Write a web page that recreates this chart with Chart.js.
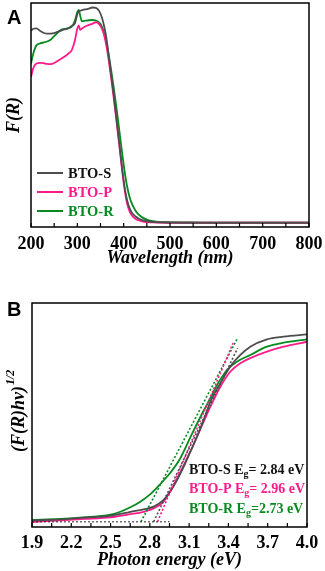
<!DOCTYPE html>
<html lang="en">
<head>
<meta charset="UTF-8">
<title>BTO absorption spectra</title>
<script src="https://cdn.jsdelivr.net/npm/chart.js"></script>
<style>
  body { margin: 0; background: #fff; width: 325px; height: 571px; overflow: hidden; position: relative; }
  canvas { position: absolute; left: 0; }
  #chartA { top: 0; }
  #chartB { top: 280px; }
  .panel { position: absolute; left: 7px; font: bold 20px "Liberation Sans", Arial, sans-serif; line-height: 20px; color: #000; }
</style>
</head>
<body>
<canvas id="chartA" width="325" height="280"></canvas>
<canvas id="chartB" width="325" height="291"></canvas>
<div class="panel" style="top:7px">A</div>
<div class="panel" style="top:299px">B</div>

<script>
  // ---- Panel A: F(R) vs wavelength ----
  const wavelength = [200, 205, 212, 220, 228, 235, 243, 250, 258, 265, 272, 280, 288, 295, 300, 303, 306, 310, 318, 325,
    332, 340, 347, 353, 358, 363, 368, 373, 378, 383, 388, 393, 398, 403, 408, 413, 418, 425, 432, 440,
    450, 460, 475, 500, 550, 600, 650, 700, 750, 800];
  const fS = [87.6, 88.5, 88.7, 87.5, 86.6, 86.3, 86.3, 86.5, 87.2, 87.7, 88.2, 88.6, 89.8, 91, 95, 96.3, 96.5, 96.8, 97.2, 97.5,
    98, 97.8, 96.5, 93.5, 89.5, 84, 76, 68, 60, 51, 42, 33, 24, 16.5, 11.5, 8.3, 6.3, 4.8, 3.8, 3.1,
    2.6, 2.3, 2.1, 2.0, 1.9, 1.9, 1.9, 1.9, 1.9, 1.9];
  const fP = [67, 71, 73, 73.3, 73.1, 72.8, 72.7, 73.2, 74.2, 75.1, 76, 77.3, 79, 83.5, 88.7, 90, 88, 88.6, 89.6, 90.2,
    90.7, 91.4, 90.6, 88.5, 85.5, 80.5, 74, 66.5, 58.5, 50, 41, 32, 23, 15.5, 10, 6.8, 5, 3.7, 3, 2.5,
    2.2, 2.1, 2.0, 1.9, 1.9, 1.9, 1.9, 1.9, 1.9, 1.9];
  const fR = [73, 77.5, 81.2, 82, 82.4, 82.8, 83.7, 85.2, 86.8, 88, 88.4, 88.8, 89.4, 92.4, 96, 96.9, 94.5, 91.8, 92.1, 92.3,
    92.4, 92.2, 91.3, 89.5, 86.5, 82, 76.5, 70, 63, 55.5, 47.5, 39, 31, 23.5, 17.5, 13.2, 10.3, 7.5, 5.6, 4.3,
    3.3, 2.7, 2.3, 2.1, 2.0, 1.9, 1.9, 1.9, 1.9, 1.9];
  const wlTicks = [200, 250, 300, 350, 400, 450, 500, 550, 600, 650, 700, 750, 800];

  // ---- Panel B: Tauc plot ----
  const energySP = [1.9, 2.116, 2.3, 2.498, 2.651, 2.752, 2.829, 2.905, 2.956, 3.007, 3.058, 3.109, 3.16, 3.211, 3.262,
    3.338, 3.414, 3.491, 3.567, 3.694, 3.821, 4.0];
  const taucS = [2.9, 3.4, 4.2, 5.0, 6.8, 7.9, 9.1, 12.1, 15.8, 21, 26.9, 33.6, 40.3, 47.8, 55.9,
    64.2, 71.6, 76.8, 80.5, 83.8, 85.0, 86.0];
  const taucP = [2.2, 3.0, 3.6, 4.3, 5.7, 6.8, 8.3, 11.3, 16.0, 21.5, 27.5, 33.6, 40.3, 47, 53.7,
    62.6, 69.3, 73.1, 75.4, 78.3, 80.5, 82.7];
  const energyR = [1.9, 2.116, 2.37, 2.498, 2.574, 2.651, 2.727, 2.804, 2.88, 2.956, 3.033, 3.109, 3.185, 3.262, 3.313,
    3.389, 3.465, 3.567, 3.694, 3.821, 4.0];
  const taucR = [3.1, 3.6, 4.6, 5.5, 6.8, 8.8, 11.3, 14.7, 19.2, 24.2, 30.7, 40, 49, 57.5, 63.4,
    70.1, 73.8, 76.8, 80.5, 82.3, 83.8];
  // tangent (extrapolation) lines and the baseline
  const tangentS = [[2.829, 2.4], [3.47, 79.8]];
  const tangentP = [[2.859, 2.4], [3.44, 82.7]];
  const tangentR = [[2.732, 2.4], [3.465, 83.8]];
  const baseline = [[1.9, 2.3], [2.95, 2.3]];
  const evTicks = [1.9, 2.05, 2.2, 2.35, 2.5, 2.65, 2.8, 2.95, 3.1, 3.25, 3.4, 3.55, 3.7, 3.85, 4.0];

  const names = ['BTO-S', 'BTO-P', 'BTO-R'];
  const gapText = ['= 2.84 eV', '= 2.96 eV', '=2.73 eV'];
  const colors = ['#4d4d4d', '#ff1a8c', '#078a1f'];
  const textColors = ['#111111', '#ff1a8c', '#078a1f'];

  const serif = '"Liberation Serif", "Times New Roman", serif';
  const tickFont = { family: serif, size: 18, weight: 'bold' };
  const titleFont = { family: serif, size: 18, weight: 'bold', style: 'italic' };

  const toXY = (xs, ys) => xs.map((x, i) => ({ x: x, y: ys[i] }));
  const pairs = p => p.map(d => ({ x: d[0], y: d[1] }));

  // box around the plot + inward ticks on the bottom axis
  const framePlugin = {
    id: 'frame',
    afterDraw(chart) {
      const { ctx, chartArea: a } = chart;
      ctx.save();
      ctx.strokeStyle = '#000';
      ctx.lineWidth = 1.5;
      ctx.strokeRect(a.left, a.top, a.right - a.left, a.bottom - a.top);
      ctx.lineWidth = 1.2;
      chart.scales.x.ticks.forEach(t => {
        const px = chart.scales.x.getPixelForValue(t.value);
        ctx.beginPath();
        ctx.moveTo(px, a.bottom);
        ctx.lineTo(px, a.bottom - 4);
        ctx.stroke();
      });
      ctx.restore();
    }
  };

  const legendA = {
    id: 'legendA',
    afterDraw(chart) {
      const { ctx, chartArea: a } = chart;
      ctx.save();
      ctx.font = 'bold 14.5px ' + serif;
      ctx.textBaseline = 'middle';
      names.forEach((n, i) => {
        const y = a.bottom - 54 + i * 19;
        ctx.strokeStyle = colors[i];
        ctx.lineWidth = 2;
        ctx.beginPath();
        ctx.moveTo(a.left + 6, y);
        ctx.lineTo(a.left + 32, y);
        ctx.stroke();
        ctx.fillStyle = textColors[i];
        ctx.fillText(n, a.left + 37, y + 1);
      });
      ctx.restore();
    }
  };

  const labelsB = {
    id: 'labelsB',
    afterDraw(chart) {
      const { ctx, chartArea: a } = chart;
      ctx.save();
      ctx.textBaseline = 'middle';
      names.forEach((n, i) => {
        const y = a.bottom - 57 + i * 19.5;
        let x = a.left + 157;
        ctx.fillStyle = textColors[i];
        ctx.font = 'bold 14px ' + serif;
        const head = n + ' E';
        ctx.fillText(head, x, y);
        x += ctx.measureText(head).width;
        ctx.font = 'bold 10px ' + serif;
        ctx.fillText('g', x, y + 4);
        x += ctx.measureText('g').width;
        ctx.font = 'bold 14px ' + serif;
        ctx.fillText(gapText[i], x, y);
      });
      // y axis title with superscript
      ctx.fillStyle = '#000';
      ctx.translate(19, a.bottom - 75);
      ctx.rotate(-Math.PI / 2);
      ctx.font = 'italic bold 18px ' + serif;
      ctx.textAlign = 'left';
      const main = '(F(R)hv)';
      ctx.fillText(main, 0, 0);
      const w = ctx.measureText(main).width;
      ctx.font = 'italic bold 12px ' + serif;
      ctx.fillText('1/2', w + 1, -8);
      ctx.restore();
    }
  };

  const lineDs = (label, data, color) => ({
    label: label, data: data, borderColor: color, borderWidth: 1.8,
    pointRadius: 0, fill: false, cubicInterpolationMode: 'monotone'
  });
  const dotDs = (label, data, color, w) => ({
    label: label, data: data, borderColor: color, borderWidth: w || 1.6,
    borderDash: [2, 2], pointRadius: 0, fill: false
  });

  new Chart(document.getElementById('chartA'), {
    type: 'line',
    data: {
      datasets: [
        lineDs('BTO-S', toXY(wavelength, fS), colors[0]),
        lineDs('BTO-P', toXY(wavelength, fP), colors[1]),
        lineDs('BTO-R', toXY(wavelength, fR), colors[2])
      ]
    },
    options: {
      responsive: false,
      animation: false,
      layout: { padding: { top: 3, right: 16, left: 0, bottom: 0 } },
      plugins: { legend: { display: false }, tooltip: { enabled: false } },
      scales: {
        x: {
          type: 'linear', min: 200, max: 800,
          afterBuildTicks: s => { s.ticks = wlTicks.map(v => ({ value: v })); },
          afterFit: s => { s.height = 53; },
          grid: { display: false }, border: { display: false },
          ticks: { autoSkip: false, maxRotation: 0, padding: -1, color: '#000', font: tickFont,
            callback: v => (v % 100 === 0 ? String(v) : '') },
          title: { display: true, text: 'Wavelength (nm)', color: '#000', font: titleFont, padding: { top: 0, bottom: 11 } }
        },
        y: {
          min: 0, max: 100,
          afterFit: s => { s.width = 31; },
          grid: { display: false }, border: { display: false },
          ticks: { display: false },
          title: { display: true, text: 'F(R)', color: '#000', font: titleFont, padding: { top: 4, bottom: 0 } }
        }
      }
    },
    plugins: [framePlugin, legendA]
  });

  new Chart(document.getElementById('chartB'), {
    type: 'line',
    data: {
      datasets: [
        dotDs('baseline', pairs(baseline), '#222', 1),
        dotDs('tangent S', pairs(tangentS), colors[0]),
        dotDs('tangent P', pairs(tangentP), colors[1]),
        dotDs('tangent R', pairs(tangentR), colors[2]),
        lineDs('BTO-S', toXY(energySP, taucS), colors[0]),
        lineDs('BTO-P', toXY(energySP, taucP), colors[1]),
        lineDs('BTO-R', toXY(energyR, taucR), colors[2])
      ]
    },
    options: {
      responsive: false,
      animation: false,
      layout: { padding: { top: 23, right: 18, left: 0, bottom: 0 } },
      plugins: { legend: { display: false }, tooltip: { enabled: false } },
      scales: {
        x: {
          type: 'linear', min: 1.9, max: 4.0,
          afterBuildTicks: s => { s.ticks = evTicks.map(v => ({ value: v })); },
          afterFit: s => { s.height = 44; },
          grid: { display: false }, border: { display: false },
          ticks: { autoSkip: false, maxRotation: 0, padding: -2, color: '#000', font: tickFont,
            callback: (v, i) => (i % 2 === 0 ? v.toFixed(1) : '') },
          title: { display: true, text: 'Photon energy (eV)', color: '#000', font: titleFont, padding: { top: 0, bottom: 0 } }
        },
        y: {
          min: 0, max: 100,
          afterFit: s => { s.width = 32; },
          grid: { display: false }, border: { display: false },
          ticks: { display: false },
          title: { display: false }
        }
      }
    },
    plugins: [framePlugin, labelsB]
  });
</script>
</body>
</html>
